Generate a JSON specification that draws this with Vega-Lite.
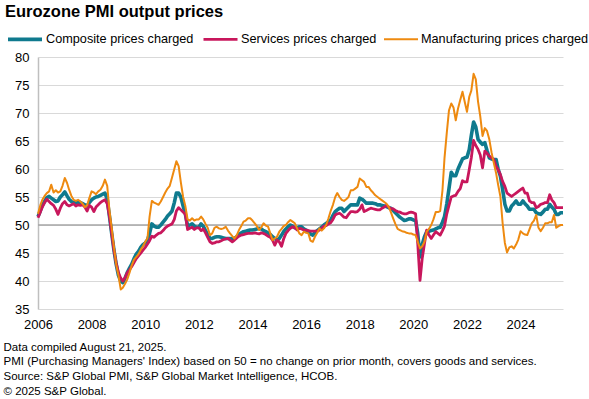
{
  "$schema": "https://vega.github.io/schema/vega-lite/v6.json",
  "width": 525,
  "height": 252,
  "autosize": "none",
  "padding": {"left": 38, "top": 57, "right": 26, "bottom": 90},
  "background": "white",
  "config": {
    "font": "Liberation Sans",
    "view": {"stroke": null},
    "axis": {"labelColor": "#000", "titleColor": "#000", "labelFont": "Liberation Sans", "titleFont": "Liberation Sans"}
  },
  "title": {
    "text": "Eurozone PMI output prices",
    "anchor": "start",
    "frame": "group",
    "fontSize": 16.5,
    "fontWeight": "bold",
    "color": "#000",
    "baseline": "alphabetic",
    "offset": 2,
    "dx": -33,
    "dy": 15
  },
  "data": {
    "values": [
      {"d":"2006-01-01","c":51.5,"s":51.3,"m":52.0},{"d":"2006-02-01","c":52.5,"s":52.3,"m":53.5},{"d":"2006-03-01","c":53.5,"s":53.2,"m":54.5},{"d":"2006-04-01","c":54.2,"s":54.0,"m":55.2},{"d":"2006-05-01","c":54.9,"s":54.6,"m":55.7},{"d":"2006-06-01","c":55.1,"s":54.2,"m":56.0},{"d":"2006-07-01","c":54.8,"s":53.8,"m":57.2},{"d":"2006-08-01","c":54.5,"s":53.5,"m":55.8},{"d":"2006-09-01","c":54.2,"s":52.8,"m":56.2},{"d":"2006-10-01","c":54.3,"s":51.9,"m":55.8},{"d":"2006-11-01","c":55.0,"s":53.0,"m":56.0},{"d":"2006-12-01","c":55.4,"s":53.8,"m":57.0},
      {"d":"2007-01-01","c":55.9,"s":54.2,"m":58.4},{"d":"2007-02-01","c":55.2,"s":53.6,"m":57.5},{"d":"2007-03-01","c":54.6,"s":53.4,"m":56.3},{"d":"2007-04-01","c":54.2,"s":53.6,"m":55.2},{"d":"2007-05-01","c":54.0,"s":53.8,"m":54.5},{"d":"2007-06-01","c":54.0,"s":53.4,"m":54.3},{"d":"2007-07-01","c":54.1,"s":53.6,"m":54.5},{"d":"2007-08-01","c":54.0,"s":53.5,"m":54.2},{"d":"2007-09-01","c":53.8,"s":53.6,"m":53.8},{"d":"2007-10-01","c":53.6,"s":53.2,"m":53.2},{"d":"2007-11-01","c":53.4,"s":52.5,"m":53.5},{"d":"2007-12-01","c":54.0,"s":53.5,"m":54.8},
      {"d":"2008-01-01","c":54.5,"s":53.2,"m":56.0},{"d":"2008-02-01","c":54.8,"s":52.4,"m":55.8},{"d":"2008-03-01","c":55.0,"s":53.2,"m":55.5},{"d":"2008-04-01","c":55.1,"s":53.6,"m":56.0},{"d":"2008-05-01","c":55.3,"s":54.0,"m":56.3},{"d":"2008-06-01","c":55.5,"s":54.3,"m":57.0},{"d":"2008-07-01","c":55.7,"s":54.5,"m":58.1},{"d":"2008-08-01","c":54.6,"s":53.8,"m":57.0},{"d":"2008-09-01","c":51.5,"s":51.5,"m":52.5},{"d":"2008-10-01","c":48.5,"s":48.5,"m":49.5},{"d":"2008-11-01","c":45.5,"s":45.5,"m":46.0},{"d":"2008-12-01","c":43.0,"s":43.2,"m":43.0},
      {"d":"2009-01-01","c":41.0,"s":41.5,"m":41.0},{"d":"2009-02-01","c":40.0,"s":40.5,"m":38.5},{"d":"2009-03-01","c":39.7,"s":40.0,"m":38.8},{"d":"2009-04-01","c":40.5,"s":40.6,"m":39.5},{"d":"2009-05-01","c":41.5,"s":41.5,"m":40.3},{"d":"2009-06-01","c":42.3,"s":42.0,"m":41.5},{"d":"2009-07-01","c":43.0,"s":42.6,"m":42.8},{"d":"2009-08-01","c":44.0,"s":43.3,"m":43.8},{"d":"2009-09-01","c":44.8,"s":44.0,"m":44.3},{"d":"2009-10-01","c":45.3,"s":44.5,"m":44.8},{"d":"2009-11-01","c":46.0,"s":45.0,"m":45.6},{"d":"2009-12-01","c":46.5,"s":45.5,"m":46.2},
      {"d":"2010-01-01","c":46.8,"s":46.0,"m":47.0},{"d":"2010-02-01","c":47.3,"s":46.6,"m":47.7},{"d":"2010-03-01","c":48.5,"s":47.2,"m":51.5},{"d":"2010-04-01","c":50.2,"s":48.0,"m":54.3},{"d":"2010-05-01","c":49.8,"s":47.8,"m":54.0},{"d":"2010-06-01","c":49.6,"s":48.2,"m":53.8},{"d":"2010-07-01","c":49.6,"s":48.5,"m":53.6},{"d":"2010-08-01","c":50.0,"s":48.6,"m":54.2},{"d":"2010-09-01","c":50.5,"s":49.0,"m":55.0},{"d":"2010-10-01","c":51.0,"s":49.5,"m":55.8},{"d":"2010-11-01","c":51.6,"s":49.8,"m":56.5},{"d":"2010-12-01","c":52.0,"s":50.0,"m":57.0},
      {"d":"2011-01-01","c":52.5,"s":50.2,"m":58.5},{"d":"2011-02-01","c":54.0,"s":51.0,"m":60.0},{"d":"2011-03-01","c":55.7,"s":52.5,"m":61.4},{"d":"2011-04-01","c":55.7,"s":53.1,"m":60.5},{"d":"2011-05-01","c":55.0,"s":52.7,"m":57.6},{"d":"2011-06-01","c":53.4,"s":52.3,"m":55.0},{"d":"2011-07-01","c":52.0,"s":51.9,"m":53.4},{"d":"2011-08-01","c":49.8,"s":49.2,"m":51.0},{"d":"2011-09-01","c":50.0,"s":49.4,"m":50.8},{"d":"2011-10-01","c":50.2,"s":49.6,"m":51.2},{"d":"2011-11-01","c":49.8,"s":49.2,"m":50.8},{"d":"2011-12-01","c":49.6,"s":49.5,"m":51.0},
      {"d":"2012-01-01","c":49.6,"s":49.5,"m":51.0},{"d":"2012-02-01","c":50.2,"s":49.0,"m":51.5},{"d":"2012-03-01","c":49.8,"s":49.3,"m":51.0},{"d":"2012-04-01","c":49.0,"s":48.6,"m":50.2},{"d":"2012-05-01","c":48.3,"s":47.8,"m":49.5},{"d":"2012-06-01","c":47.6,"s":47.0,"m":48.2},{"d":"2012-07-01","c":47.6,"s":46.7,"m":48.5},{"d":"2012-08-01","c":47.8,"s":46.8,"m":49.5},{"d":"2012-09-01","c":47.9,"s":47.0,"m":49.7},{"d":"2012-10-01","c":47.9,"s":47.0,"m":49.4},{"d":"2012-11-01","c":47.8,"s":47.2,"m":49.3},{"d":"2012-12-01","c":47.7,"s":47.4,"m":49.4},
      {"d":"2013-01-01","c":47.6,"s":47.5,"m":49.7},{"d":"2013-02-01","c":47.6,"s":47.6,"m":49.0},{"d":"2013-03-01","c":47.6,"s":47.3,"m":48.5},{"d":"2013-04-01","c":47.5,"s":47.0,"m":48.0},{"d":"2013-05-01","c":47.6,"s":47.3,"m":47.6},{"d":"2013-06-01","c":47.9,"s":47.7,"m":48.2},{"d":"2013-07-01","c":48.3,"s":48.0,"m":49.1},{"d":"2013-08-01","c":48.6,"s":48.2,"m":49.8},{"d":"2013-09-01","c":48.8,"s":48.3,"m":50.6},{"d":"2013-10-01","c":48.9,"s":48.4,"m":50.8},{"d":"2013-11-01","c":49.0,"s":48.5,"m":51.2},{"d":"2013-12-01","c":49.1,"s":48.5,"m":51.2},
      {"d":"2014-01-01","c":49.1,"s":48.5,"m":50.8},{"d":"2014-02-01","c":49.2,"s":48.6,"m":50.3},{"d":"2014-03-01","c":49.3,"s":48.5,"m":49.8},{"d":"2014-04-01","c":49.4,"s":48.4,"m":49.1},{"d":"2014-05-01","c":49.3,"s":48.6,"m":49.6},{"d":"2014-06-01","c":49.0,"s":48.5,"m":50.3},{"d":"2014-07-01","c":48.8,"s":48.3,"m":49.9},{"d":"2014-08-01","c":48.6,"s":48.0,"m":49.7},{"d":"2014-09-01","c":48.3,"s":47.8,"m":48.5},{"d":"2014-10-01","c":47.9,"s":47.3,"m":47.3},{"d":"2014-11-01","c":47.6,"s":46.4,"m":47.6},{"d":"2014-12-01","c":47.3,"s":47.3,"m":47.9},
      {"d":"2015-01-01","c":47.6,"s":47.0,"m":48.8},{"d":"2015-02-01","c":48.2,"s":46.2,"m":49.3},{"d":"2015-03-01","c":48.8,"s":47.5,"m":49.8},{"d":"2015-04-01","c":49.3,"s":48.5,"m":50.0},{"d":"2015-05-01","c":49.7,"s":49.0,"m":50.5},{"d":"2015-06-01","c":50.0,"s":49.4,"m":50.9},{"d":"2015-07-01","c":49.8,"s":49.7,"m":50.6},{"d":"2015-08-01","c":49.5,"s":49.5,"m":50.3},{"d":"2015-09-01","c":49.4,"s":49.1,"m":49.4},{"d":"2015-10-01","c":49.7,"s":49.4,"m":48.5},{"d":"2015-11-01","c":49.7,"s":49.3,"m":48.2},{"d":"2015-12-01","c":49.3,"s":49.1,"m":48.8},
      {"d":"2016-01-01","c":49.1,"s":49.1,"m":48.6},{"d":"2016-02-01","c":48.8,"s":49.0,"m":48.5},{"d":"2016-03-01","c":48.4,"s":48.9,"m":47.2},{"d":"2016-04-01","c":48.2,"s":48.9,"m":47.0},{"d":"2016-05-01","c":48.6,"s":48.9,"m":47.9},{"d":"2016-06-01","c":49.0,"s":48.9,"m":48.6},{"d":"2016-07-01","c":49.3,"s":49.1,"m":49.4},{"d":"2016-08-01","c":49.6,"s":49.4,"m":49.0},{"d":"2016-09-01","c":50.0,"s":49.8,"m":49.4},{"d":"2016-10-01","c":50.3,"s":49.9,"m":50.0},{"d":"2016-11-01","c":50.6,"s":50.2,"m":51.2},{"d":"2016-12-01","c":50.9,"s":50.4,"m":52.5},
      {"d":"2017-01-01","c":51.7,"s":51.0,"m":53.6},{"d":"2017-02-01","c":52.4,"s":51.8,"m":55.0},{"d":"2017-03-01","c":52.7,"s":52.0,"m":55.7},{"d":"2017-04-01","c":53.0,"s":52.1,"m":55.0},{"d":"2017-05-01","c":53.0,"s":51.8,"m":54.5},{"d":"2017-06-01","c":52.4,"s":51.4,"m":54.3},{"d":"2017-07-01","c":52.8,"s":51.3,"m":54.6},{"d":"2017-08-01","c":53.2,"s":51.9,"m":55.0},{"d":"2017-09-01","c":53.6,"s":52.4,"m":56.2},{"d":"2017-10-01","c":53.6,"s":52.4,"m":56.2},{"d":"2017-11-01","c":53.6,"s":52.3,"m":56.5},{"d":"2017-12-01","c":53.6,"s":52.4,"m":56.8},
      {"d":"2018-01-01","c":54.8,"s":52.8,"m":58.3},{"d":"2018-02-01","c":54.6,"s":53.6,"m":58.0},{"d":"2018-03-01","c":54.3,"s":52.4,"m":57.7},{"d":"2018-04-01","c":53.9,"s":52.6,"m":56.8},{"d":"2018-05-01","c":53.9,"s":52.8,"m":56.8},{"d":"2018-06-01","c":53.9,"s":53.0,"m":56.2},{"d":"2018-07-01","c":53.9,"s":52.9,"m":55.8},{"d":"2018-08-01","c":53.8,"s":52.8,"m":55.3},{"d":"2018-09-01","c":53.6,"s":52.7,"m":55.0},{"d":"2018-10-01","c":53.6,"s":52.7,"m":54.7},{"d":"2018-11-01","c":53.5,"s":53.0,"m":54.4},{"d":"2018-12-01","c":53.4,"s":53.2,"m":54.1},
      {"d":"2019-01-01","c":53.3,"s":53.5,"m":53.8},{"d":"2019-02-01","c":53.1,"s":53.2,"m":53.2},{"d":"2019-03-01","c":53.0,"s":52.9,"m":52.3},{"d":"2019-04-01","c":52.6,"s":52.9,"m":51.2},{"d":"2019-05-01","c":52.2,"s":52.6,"m":50.2},{"d":"2019-06-01","c":51.8,"s":52.4,"m":49.3},{"d":"2019-07-01","c":51.4,"s":52.3,"m":49.1},{"d":"2019-08-01","c":51.1,"s":52.1,"m":48.9},{"d":"2019-09-01","c":50.8,"s":52.0,"m":48.8},{"d":"2019-10-01","c":50.9,"s":52.0,"m":48.6},{"d":"2019-11-01","c":51.1,"s":52.2,"m":48.5},{"d":"2019-12-01","c":51.1,"s":52.3,"m":48.5},
      {"d":"2020-01-01","c":50.9,"s":52.2,"m":48.3},{"d":"2020-02-01","c":50.8,"s":52.0,"m":48.2},{"d":"2020-03-01","c":48.5,"s":46.7,"m":47.0},{"d":"2020-04-01","c":44.3,"s":40.1,"m":45.8},{"d":"2020-05-01","c":46.5,"s":44.0,"m":46.2},{"d":"2020-06-01","c":47.9,"s":46.7,"m":47.0},{"d":"2020-07-01","c":48.8,"s":49.1,"m":48.8},{"d":"2020-08-01","c":48.9,"s":48.2,"m":49.3},{"d":"2020-09-01","c":49.0,"s":47.6,"m":50.0},{"d":"2020-10-01","c":49.1,"s":48.2,"m":51.0},{"d":"2020-11-01","c":49.3,"s":48.8,"m":52.3},{"d":"2020-12-01","c":49.5,"s":48.5,"m":52.3},
      {"d":"2021-01-01","c":49.6,"s":48.2,"m":52.5},{"d":"2021-02-01","c":50.5,"s":49.0,"m":56.2},{"d":"2021-03-01","c":51.5,"s":49.8,"m":62.0},{"d":"2021-04-01","c":53.8,"s":52.0,"m":66.5},{"d":"2021-05-01","c":56.5,"s":53.5,"m":70.5},{"d":"2021-06-01","c":59.4,"s":55.0,"m":71.7},{"d":"2021-07-01","c":58.8,"s":55.2,"m":71.0},{"d":"2021-08-01","c":58.8,"s":55.3,"m":68.7},{"d":"2021-09-01","c":60.0,"s":56.0,"m":70.8},{"d":"2021-10-01","c":60.9,"s":56.5,"m":72.3},{"d":"2021-11-01","c":61.8,"s":57.9,"m":73.8},{"d":"2021-12-01","c":62.0,"s":57.7,"m":72.0},
      {"d":"2022-01-01","c":62.1,"s":57.7,"m":70.2},{"d":"2022-02-01","c":63.5,"s":59.9,"m":72.9},{"d":"2022-03-01","c":66.0,"s":62.0,"m":74.0},{"d":"2022-04-01","c":68.4,"s":65.1,"m":77.0},{"d":"2022-05-01","c":67.5,"s":64.2,"m":76.0},{"d":"2022-06-01","c":65.3,"s":63.5,"m":72.0},{"d":"2022-07-01","c":64.8,"s":62.5,"m":69.4},{"d":"2022-08-01","c":64.4,"s":60.2,"m":65.9},{"d":"2022-09-01","c":64.7,"s":63.2,"m":67.3},{"d":"2022-10-01","c":63.3,"s":62.8,"m":66.8},{"d":"2022-11-01","c":62.0,"s":62.3,"m":65.3},{"d":"2022-12-01","c":61.8,"s":62.0,"m":63.0},
      {"d":"2023-01-01","c":61.7,"s":61.7,"m":61.1},{"d":"2023-02-01","c":61.7,"s":60.5,"m":59.3},{"d":"2023-03-01","c":60.0,"s":59.9,"m":57.2},{"d":"2023-04-01","c":58.7,"s":59.0,"m":55.1},{"d":"2023-05-01","c":56.4,"s":57.8,"m":50.4},{"d":"2023-06-01","c":53.7,"s":56.9,"m":46.8},{"d":"2023-07-01","c":52.5,"s":55.7,"m":45.1},{"d":"2023-08-01","c":52.5,"s":55.4,"m":46.0},{"d":"2023-09-01","c":53.4,"s":55.1,"m":46.2},{"d":"2023-10-01","c":53.8,"s":55.4,"m":45.8},{"d":"2023-11-01","c":54.3,"s":55.7,"m":46.5},{"d":"2023-12-01","c":53.7,"s":56.0,"m":47.4},
      {"d":"2024-01-01","c":53.7,"s":56.3,"m":48.9},{"d":"2024-02-01","c":54.3,"s":56.6,"m":48.5},{"d":"2024-03-01","c":53.8,"s":55.7,"m":48.3},{"d":"2024-04-01","c":53.4,"s":55.7,"m":48.2},{"d":"2024-05-01","c":52.8,"s":54.3,"m":49.2},{"d":"2024-06-01","c":52.8,"s":54.0,"m":50.3},{"d":"2024-07-01","c":52.8,"s":54.0,"m":50.8},{"d":"2024-08-01","c":52.2,"s":53.1,"m":51.8},{"d":"2024-09-01","c":52.0,"s":53.3,"m":49.5},{"d":"2024-10-01","c":51.9,"s":53.7,"m":48.9},{"d":"2024-11-01","c":52.3,"s":53.8,"m":49.5},{"d":"2024-12-01","c":52.8,"s":54.0,"m":50.3},
      {"d":"2025-01-01","c":52.8,"s":54.0,"m":50.3},{"d":"2025-02-01","c":53.7,"s":55.4,"m":50.5},{"d":"2025-03-01","c":53.2,"s":54.5,"m":50.5},{"d":"2025-04-01","c":52.8,"s":54.0,"m":51.8},{"d":"2025-05-01","c":51.9,"s":53.1,"m":49.5},{"d":"2025-06-01","c":51.9,"s":53.1,"m":49.8},{"d":"2025-07-01","c":52.2,"s":53.1,"m":50.0},{"d":"2025-08-01","c":52.2,"s":53.1,"m":50.0}
    ]
  },
  "encoding": {
    "y": {
      "field": "v",
      "type": "quantitative",
      "scale": {"domain": [35, 80], "nice": false, "zero": false},
      "axis": {
        "values": [35, 40, 45, 50, 55, 60, 65, 70, 75, 80],
        "title": null,
        "grid": true,
        "gridColor": "#d9d9d9",
        "gridWidth": 1,
        "domain": true,
        "domainColor": "#bfbfbf",
        "domainWidth": 1.5,
        "ticks": false,
        "labelFontSize": 13,
        "labelPadding": 9,
        "labelOverlap": false
      }
    }
  },
  "layer": [
    {
      "data": {"values": [{"v": 50}]},
      "mark": {"type": "rule", "color": "#a6a6a6", "strokeWidth": 1.5},
      "encoding": {}
    },
    {
      "transform": [{"fold": ["c", "s", "m"], "as": ["k", "v"]}],
      "mark": {"type": "line", "strokeJoin": "round", "strokeCap": "butt"},
      "encoding": {
        "x": {
          "field": "d",
          "type": "temporal",
          "scale": {"type": "utc", "domain": [{"year": 2006, "month": 1, "date": 1, "utc": true}, {"year": 2025, "month": 8, "date": 1, "utc": true}]},
          "axis": {
            "format": "%Y",
            "tickCount": {"interval": "year", "step": 2},
            "grid": false,
            "domain": false,
            "ticks": false,
            "labelFontSize": 13,
            "labelPadding": 9,
            "labelFlush": false,
            "title": [
              "Data compiled August 21, 2025.",
              "PMI (Purchasing Managers' Index) based on 50 = no change on prior month, covers goods and services.",
              "Source: S&P Global PMI, S&P Global Market Intelligence, HCOB.",
              "© 2025 S&P Global."
            ],
            "titleFontSize": 11.5,
            "titleFontWeight": "normal",
            "titleAnchor": "start",
            "titleAlign": "left",
            "titleBaseline": "top",
            "titleX": -35,
            "titleY": 32,
            "titleLineHeight": 14.8
          }
        },
        "color": {
          "field": "k",
          "type": "nominal",
          "scale": {"domain": ["c", "s", "m"], "range": ["#0f7a8e", "#c8175c", "#ee8a10"]},
          "legend": {
            "title": null,
            "orient": "none",
            "direction": "horizontal",
            "legendX": -32,
            "legendY": -37,
            "labelFontSize": 12.7,
            "labelColor": "#000",
            "labelLimit": 250,
            "labelExpr": "datum.label == 'c' ? 'Composite prices charged' : datum.label == 's' ? 'Services prices charged' : 'Manufacturing prices charged'",
            "symbolType": "stroke",
            "symbolSize": 1156,
            "symbolStrokeWidth": 2.5,
            "labelOffset": 2,
            "columnPadding": 3,
            "padding": 0,
            "symbolFillColor": "transparent",
            "encode": {
              "symbols": {
                "update": {
                  "strokeWidth": {"signal": "datum.value == 'c' ? 4 : 2.5"}
                }
              }
            }
          }
        },
        "strokeWidth": {
          "field": "k",
          "type": "nominal",
          "scale": {"domain": ["c", "s", "m"], "range": [3.6, 2, 2]},
          "legend": null
        }
      }
    }
  ]
}
